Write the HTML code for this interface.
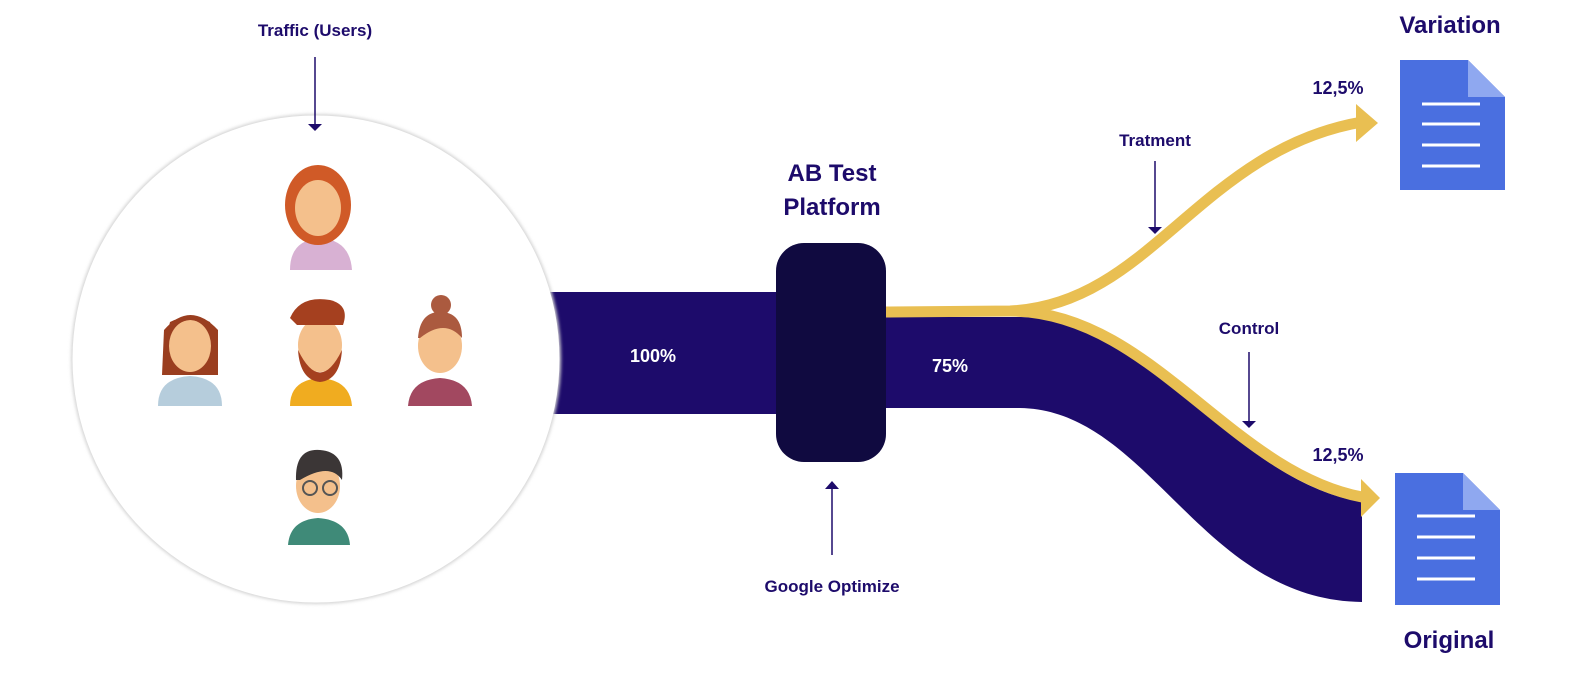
<!DOCTYPE html>
<html><head><meta charset="utf-8"><style>
body{margin:0;background:#fff;}
svg{display:block}
text{font-family:"Liberation Sans",sans-serif;font-weight:bold;}
</style></head><body>
<svg width="1595" height="683" viewBox="0 0 1595 683">
<defs><filter id="sh" x="-10%" y="-10%" width="120%" height="120%"><feGaussianBlur stdDeviation="1.5"/></filter></defs>
<!-- navy band -->
<rect x="550" y="292" width="240" height="122" fill="#1d0b6b"/>
<path d="M880 317 L1020 317 C1150 317 1230 480 1362 502 L1362 602 C1200 600 1150 410 1020 408 L880 408 Z" fill="#1d0b6b"/>
<!-- yellow -->
<path d="M884 312 L1010 311 C1150 305 1200 150 1362 122" stroke="#e9bf52" stroke-width="11" fill="none"/>
<path d="M1010 311 C1150 311 1230 472 1362 497" stroke="#e9bf52" stroke-width="11" fill="none"/>
<polygon points="1356,104 1378,123 1356,142" fill="#e9bf52"/>
<polygon points="1361,479 1380,498 1361,517" fill="#e9bf52"/>
<!-- box -->
<rect x="776" y="243" width="110" height="219" rx="28" fill="#100a40"/>
<!-- circle -->
<circle cx="316" cy="359" r="245" fill="#d4d4d4" filter="url(#sh)"/>
<circle cx="316" cy="359" r="243.5" fill="#fff"/>
<!-- avatars -->
<g>
<path d="M290 270 Q290 240 320 238 Q350 240 352 270 Z" fill="#d8b1d3"/>
<ellipse cx="318" cy="205" rx="33" ry="40" fill="#d05a27"/>
<ellipse cx="318" cy="208" rx="23" ry="28" fill="#f4c08c"/>
<path d="M296 190 Q318 165 342 195 L340 180 Q318 160 296 180 Z" fill="#d05a27"/>
</g>
<g>
<path d="M158 406 Q158 378 190 376 Q222 378 222 406 Z" fill="#b6cddc"/>
<path d="M162 375 L164 330 Q190 300 218 330 L218 375 Z" fill="#9a3e1f"/>
<ellipse cx="190" cy="346" rx="21" ry="26" fill="#f4c08c"/>
<path d="M167 335 Q190 305 215 335 L210 322 Q190 312 170 322 Z" fill="#9a3e1f"/>
</g>
<g>
<path d="M290 406 Q290 380 320 378 Q350 380 352 406 Z" fill="#f0ac20"/>
<ellipse cx="320" cy="345" rx="22" ry="27" fill="#f4c08c"/>
<path d="M298 350 Q320 395 342 350 Q340 380 320 382 Q300 380 298 350 Z" fill="#a5401f"/>
<path d="M290 318 Q300 295 330 300 Q350 305 343 325 L297 325 Z" fill="#a5401f"/>
</g>
<g>
<path d="M408 406 Q410 380 440 378 Q470 380 472 406 Z" fill="#a24860"/>
<ellipse cx="440" cy="346" rx="22" ry="27" fill="#f4c08c"/>
<path d="M418 338 Q420 312 440 312 Q462 312 462 338 Q445 318 420 338 Z" fill="#ab5a3f"/>
<circle cx="441" cy="305" r="10" fill="#ab5a3f"/>
</g>
<g>
<path d="M288 545 Q290 520 318 518 Q348 520 350 545 Z" fill="#3f8a78"/>
<ellipse cx="318" cy="486" rx="22" ry="27" fill="#f4c08c"/>
<path d="M296 480 Q295 448 320 450 Q345 452 342 480 Q330 462 300 480 Z" fill="#3b3636"/>
<circle cx="310" cy="488" r="7" fill="none" stroke="#555" stroke-width="2"/>
<circle cx="330" cy="488" r="7" fill="none" stroke="#555" stroke-width="2"/>
</g>
<!-- docs -->
<g>
<path d="M1400 60 L1468 60 L1505 97 L1505 190 L1400 190 Z" fill="#4a6fe0"/>
<path d="M1468 60 L1468 97 L1505 97 Z" fill="#8fa8f0"/>
<g stroke="#fff" stroke-width="3"><line x1="1422" y1="104" x2="1480" y2="104"/><line x1="1422" y1="124" x2="1480" y2="124"/><line x1="1422" y1="145" x2="1480" y2="145"/><line x1="1422" y1="166" x2="1480" y2="166"/></g>
</g>
<g>
<path d="M1395 473 L1463 473 L1500 510 L1500 605 L1395 605 Z" fill="#4a6fe0"/>
<path d="M1463 473 L1463 510 L1500 510 Z" fill="#8fa8f0"/>
<g stroke="#fff" stroke-width="3"><line x1="1417" y1="516" x2="1475" y2="516"/><line x1="1417" y1="537" x2="1475" y2="537"/><line x1="1417" y1="558" x2="1475" y2="558"/><line x1="1417" y1="579" x2="1475" y2="579"/></g>
</g>
<!-- arrows -->
<g stroke="#1d0b6b" stroke-width="1.5" fill="#1d0b6b">
<line x1="315" y1="57" x2="315" y2="125"/><polygon points="308,124 322,124 315,131" stroke="none"/>
<line x1="1155" y1="161" x2="1155" y2="228"/><polygon points="1148,227 1162,227 1155,234" stroke="none"/>
<line x1="1249" y1="352" x2="1249" y2="422"/><polygon points="1242,421 1256,421 1249,428" stroke="none"/>
<line x1="832" y1="488" x2="832" y2="555"/><polygon points="825,489 839,489 832,481" stroke="none"/>
</g>
<!-- text -->
<g fill="#1d0b6b" text-anchor="middle">
<text x="315" y="36" font-size="17">Traffic (Users)</text>
<text x="832" y="181" font-size="24">AB Test</text>
<text x="832" y="215" font-size="24">Platform</text>
<text x="832" y="592" font-size="17">Google Optimize</text>
<text x="1450" y="33" font-size="24">Variation</text>
<text x="1449" y="648" font-size="24">Original</text>
<text x="1338" y="94" font-size="18" font-weight="normal">12,5%</text>
<text x="1338" y="461" font-size="18" font-weight="normal">12,5%</text>
<text x="1155" y="146" font-size="17">Tratment</text>
<text x="1249" y="334" font-size="17">Control</text>
</g>
<g fill="#fff" text-anchor="middle" font-size="18">
<text x="653" y="362">100%</text>
<text x="950" y="372">75%</text>
</g>
</svg>
</body></html>
